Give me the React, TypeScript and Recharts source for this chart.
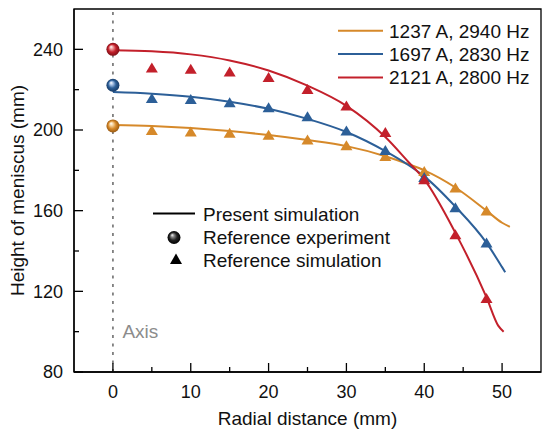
import React from "react"
import {
    ComposedChart,
    Line,
    Scatter,
    XAxis,
    YAxis,
    ReferenceLine,
    ReferenceArea,
    Label,
} from "recharts"

// Present simulation (curves)
const orangeLineX = [0, 5, 10, 15, 20, 25, 30, 35, 38, 40, 44, 48, 50, 51]
const orangeLineY = [202.5, 202, 201, 199.5, 197.5, 195, 192, 187, 183, 180, 171.5, 160, 154, 152]
const blueLineX = [0, 5, 10, 15, 20, 25, 30, 35, 38, 40, 44, 48, 50, 50.4]
const blueLineY = [218.8, 218, 216.5, 214, 210.5, 205.5, 199, 189.5, 182.5, 177, 162, 144, 132, 129.5]
const redLineX = [0, 5, 10, 15, 20, 25, 30, 35, 38, 40, 44, 48, 49.5, 50.2]
const redLineY = [239.5, 239, 237.5, 234.5, 229.5, 222, 212, 196.5, 184, 175.5, 149, 117, 103, 100]

// Reference simulation (triangles)
const refSimX = [5, 10, 15, 20, 25, 30, 35, 40, 44, 48]
const orangeSimY = [199.7, 199, 198.4, 197.4, 195.1, 192.2, 186.8, 179.4, 171.3, 159.8]
const blueSimY = [215.6, 215.1, 213.5, 211, 206.6, 199.5, 189.8, 176.5, 161.5, 144]
const redSimY = [230.8, 230.1, 228.8, 226, 220.1, 211.9, 198.7, 175.3, 148.1, 116.4]

// Reference experiment (spheres at the axis)
const refExpX = [0]
const orangeExpY = [202]
const blueExpY = [222.2]
const redExpY = [240]

const xTicks = [0, 5, 10, 15, 20, 25, 30, 35, 40, 45, 50]
const yTicks = [80, 100, 120, 140, 160, 180, 200, 220, 240]

const SERIES = [
    { name: "1237 A, 2940 Hz", color: "#d6892a", light: "#f7d6a4", dark: "#9a5a12" },
    { name: "1697 A, 2830 Hz", color: "#2c5f98", light: "#a9c3e6", dark: "#163a66" },
    { name: "2121 A, 2800 Hz", color: "#c3202b", light: "#f0a2a2", dark: "#7e0f16" },
]

const FONT = "'Liberation Sans', Arial, sans-serif"

const toPoints = (xs: number[], ys: number[]) => xs.map((x, i) => ({ x, y: ys[i] }))

const XTick = ({ x, y, payload }: any) => {
    const major = payload.value % 10 === 0
    return (
        <g>
            <line x1={x} x2={x} y1={y} y2={y - (major ? 9 : 5)} stroke="#000" strokeWidth={1.3} />
            {major && (
                <text x={x} y={y + 26.3} textAnchor="middle" fontSize={18} fontFamily={FONT} fill="#111">
                    {payload.value}
                </text>
            )}
        </g>
    )
}

const YTick = ({ x, y, payload }: any) => {
    const major = payload.value % 40 === 0
    return (
        <g>
            <line x1={x} x2={x + (major ? 9 : 5)} y1={y} y2={y} stroke="#000" strokeWidth={1.3} />
            {major && (
                <text x={x - 11} y={y + 6.4} textAnchor="end" fontSize={18} fontFamily={FONT} fill="#111">
                    {payload.value}
                </text>
            )}
        </g>
    )
}

const triangle = (color: string) => (props: any) => {
    const { cx, cy } = props
    return (
        <polygon
            points={`${cx - 6},${cy + 4.5} ${cx + 6},${cy + 4.5} ${cx},${cy - 5.5}`}
            fill={color}
        />
    )
}

const sphere = (gradId: string) => (props: any) => {
    const { cx, cy } = props
    return <circle cx={cx} cy={cy} r={6.5} fill={`url(#${gradId})`} />
}

export default function App() {
    const lines = [
        toPoints(orangeLineX, orangeLineY),
        toPoints(blueLineX, blueLineY),
        toPoints(redLineX, redLineY),
    ]
    const sims = [
        toPoints(refSimX, orangeSimY),
        toPoints(refSimX, blueSimY),
        toPoints(refSimX, redSimY),
    ]
    const exps = [
        toPoints(refExpX, orangeExpY),
        toPoints(refExpX, blueExpY),
        toPoints(refExpX, redExpY),
    ]

    return (
        <div style={{ position: "absolute", left: 0, top: 0, width: 550, height: 436, background: "#fff" }}>
            <ComposedChart
                width={550}
                height={436}
                margin={{ top: 9, right: 9, left: 0, bottom: 0 }}
                style={{ fontFamily: FONT }}
            >
                <defs>
                    {SERIES.map((s, i) => (
                        <radialGradient key={i} id={`sph${i}`} cx="0.5" cy="0.5" r="0.5" fx="0.35" fy="0.3">
                            <stop offset="0%" stopColor="#ffffff" />
                            <stop offset="25%" stopColor={s.light} />
                            <stop offset="60%" stopColor={s.color} />
                            <stop offset="100%" stopColor={s.dark} />
                        </radialGradient>
                    ))}
                    <radialGradient id="sphBlack" cx="0.5" cy="0.5" r="0.5" fx="0.35" fy="0.3">
                        <stop offset="0%" stopColor="#ffffff" />
                        <stop offset="25%" stopColor="#888" />
                        <stop offset="60%" stopColor="#222" />
                        <stop offset="100%" stopColor="#000" />
                    </radialGradient>
                </defs>

                <XAxis
                    type="number"
                    dataKey="x"
                    domain={[-5, 55]}
                    ticks={xTicks}
                    allowDataOverflow
                    height={64}
                    tickSize={0}
                    tickMargin={0}
                    tickLine={false}
                    tick={<XTick />}
                    axisLine={{ stroke: "#000", strokeWidth: 1.3 }}
                    interval={0}
                >
                    <Label
                        content={({ viewBox }: any) => (
                            <text
                                x={viewBox.x + viewBox.width / 2}
                                y={viewBox.y + 53}
                                textAnchor="middle"
                                fontSize={19}
                                fontFamily={FONT}
                                fill="#111"
                            >
                                Radial distance (mm)
                            </text>
                        )}
                    />
                </XAxis>
                <YAxis
                    type="number"
                    dataKey="y"
                    domain={[80, 260]}
                    ticks={yTicks}
                    allowDataOverflow
                    width={74}
                    tickSize={0}
                    tickMargin={0}
                    tickLine={false}
                    tick={<YTick />}
                    axisLine={{ stroke: "#000", strokeWidth: 1.3 }}
                    interval={0}
                >
                    <Label
                        content={({ viewBox }: any) => {
                            const cy = viewBox.y + viewBox.height / 2
                            return (
                                <text
                                    x={23.5}
                                    y={cy}
                                    transform={`rotate(-90, 23.5, ${cy})`}
                                    textAnchor="middle"
                                    fontSize={19}
                                    fontFamily={FONT}
                                    fill="#111"
                                >
                                    Height of meniscus (mm)
                                </text>
                            )
                        }}
                    />
                </YAxis>

                <ReferenceArea x1={-5} x2={55} y1={80} y2={260} fill="none" stroke="#000" strokeWidth={1.3} fillOpacity={0} />

                <ReferenceLine
                    x={0}
                    stroke="#7f7f7f"
                    strokeWidth={1.8}
                    strokeDasharray="3 5.5"
                    label={
                        <Label
                            content={({ viewBox }: any) => (
                                <text
                                    x={viewBox.x + 9.5}
                                    y={338}
                                    fontSize={19}
                                    fontFamily={FONT}
                                    fill="#8c8c8c"
                                >
                                    Axis
                                </text>
                            )}
                        />
                    }
                />

                {SERIES.map((s, i) => (
                    <Line
                        key={`l${i}`}
                        data={lines[i]}
                        dataKey="y"
                        type="monotone"
                        stroke={s.color}
                        strokeWidth={2}
                        dot={false}
                        activeDot={false}
                        isAnimationActive={false}
                    />
                ))}
                {SERIES.map((s, i) => (
                    <Scatter
                        key={`t${i}`}
                        data={sims[i]}
                        dataKey="y"
                        fill={s.color}
                        shape={triangle(s.color)}
                        isAnimationActive={false}
                    />
                ))}
                {SERIES.map((s, i) => (
                    <Scatter
                        key={`e${i}`}
                        data={exps[i]}
                        dataKey="y"
                        fill={s.color}
                        shape={sphere(`sph${i}`)}
                        isAnimationActive={false}
                    />
                ))}
            </ComposedChart>

            {/* legends */}
            <svg
                width={550}
                height={436}
                style={{ position: "absolute", left: 0, top: 0, pointerEvents: "none" }}
                fontFamily={FONT}
            >
                {SERIES.map((s, i) => {
                    const cy = 30.8 + i * 23.3
                    return (
                        <g key={i}>
                            <line x1={338} x2={383} y1={cy} y2={cy} stroke={s.color} strokeWidth={2} />
                            <text x={389} y={cy + 6.8} fontSize={19} fill="#111">
                                {s.name}
                            </text>
                        </g>
                    )
                })}

                <line x1={153} x2={195} y1={213.5} y2={213.5} stroke="#000" strokeWidth={2} />
                <text x={203} y={214 + 6.8} fontSize={19} fill="#111">Present simulation</text>

                <circle cx={174} cy={237.5} r={6.5} fill="url(#sphBlack)" />
                <text x={203} y={237.3 + 6.8} fontSize={19} fill="#111">Reference experiment</text>

                <polygon points="170,264 182,264 176,253.5" fill="#000" />
                <text x={203} y={260.5 + 6.8} fontSize={19} fill="#111">Reference simulation</text>
            </svg>
        </div>
    )
}
